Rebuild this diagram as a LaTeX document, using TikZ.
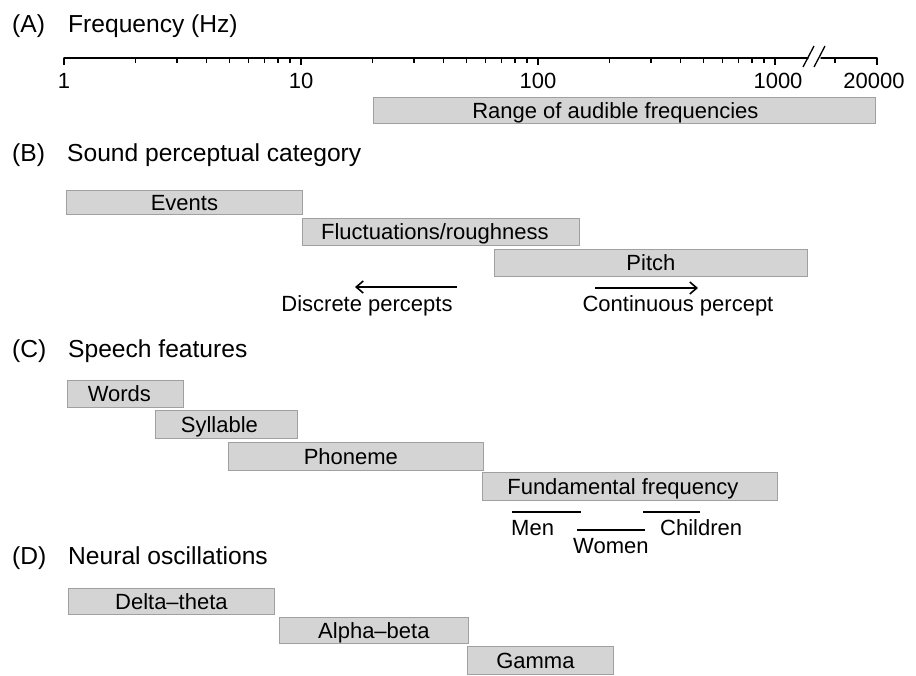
\documentclass[tikz,border=0pt]{standalone}
\usepackage{fontspec}
\setmainfont{Liberation Sans}
\usetikzlibrary{arrows.meta}
\definecolor{barfill}{RGB}{212,212,212}
\definecolor{barline}{RGB}{160,160,160}
\tikzset{
  head/.style={anchor=base west, inner sep=0pt, font=\fontsize{24.6}{28}\selectfont},
  small/.style={inner sep=0pt, font=\fontsize{22}{26}\selectfont},
  barstyle/.style={draw=barline, line width=0.8pt, fill=barfill, anchor=north west, inner sep=0pt,
    font=\fontsize{22}{26}\selectfont, text height=15.5pt, text depth=0pt},
  axisline/.style={line width=1.5pt, line cap=round},
  tickline/.style={line width=1.4pt},
  rangeline/.style={line width=1.1pt},
  percarrow/.style={line width=1.4pt, -{Straight Barb[length=7pt, width=12pt, line width=1.6pt]}},
}
\begin{document}
\begin{tikzpicture}[x=1pt, y=-1pt]
\useasboundingbox (0,0) rectangle (916,675);
% ---------- (A) ----------
\node[head] (hA) at (12,32) {(A)};
\node[head] (tA) at (68,32) {Frequency (Hz)};
\draw[axisline] (64,58) -- (808,58);
\draw[axisline] (821,58) -- (877,58);
\draw[line width=1.3pt] (803,67) -- (814,46);
\draw[line width=1.3pt] (814,67) -- (825,46);
\foreach \xx in {64,301,538,775,877} \draw[tickline] (\xx,58) -- (\xx,65);
\foreach \d in {0,1,2} \foreach \k in {2,...,9}
  \draw[tickline] ({64+237*\d+237*log10(\k)},58) -- ++(0,4.5);
\draw[tickline] (835,58) -- (835,62.5);
\node[small, anchor=base] (l1) at (64,88) {1};
\node[small, anchor=base] (l10) at (301,88) {10};
\node[small, anchor=base] (l100) at (538,88) {100};
\node[small, anchor=base] (l1000) at (778,88) {1000};
\node[small, anchor=base] (l20000) at (874,88) {20000};
\node[barstyle, minimum width=502pt, minimum height=26pt] (range) at (373,97) {\hspace*{-18pt}Range of audible frequencies};
% ---------- (B) ----------
\node[head] (hB) at (12,161) {(B)};
\node[head] (tB) at (67,161) {Sound perceptual category};
\node[barstyle, minimum width=236pt, minimum height=24pt] (events) at (66,190) {Events};
\node[barstyle, minimum width=277pt, minimum height=27pt] (fluct) at (302,218) {\hspace*{-12pt}Fluctuations/roughness};
\node[barstyle, minimum width=313pt, minimum height=27pt] (pitch) at (494,249) {Pitch};
\coordinate (dA) at (457,287);
\coordinate (dB) at (355,287);
\draw[percarrow] (dA) -- (dB);
\node[small, anchor=base] (disc) at (367,311) {Discrete percepts};
\coordinate (cA) at (595,288);
\coordinate (cB) at (698,288);
\draw[percarrow] (cA) -- (cB);
\node[small, anchor=base] (cont) at (678,311) {Continuous percept};
% ---------- (C) ----------
\node[head] (hC) at (12,357) {(C)};
\node[head] (tC) at (68,357) {Speech features};
\node[barstyle, minimum width=116pt, minimum height=27pt] (words) at (67,380) {\hspace*{-12pt}Words};
\node[barstyle, minimum width=142pt, minimum height=28pt] (syll) at (155,410) {\hspace*{-14pt}Syllable};
\node[barstyle, minimum width=255pt, minimum height=28pt] (phon) at (228,442) {\hspace*{-10pt}Phoneme};
\node[barstyle, minimum width=295pt, minimum height=28pt] (fund) at (482,472) {\hspace*{-14pt}Fundamental frequency};
\draw[rangeline] (512,512) -- (581,512);
\draw[rangeline] (577,530) -- (645,530);
\draw[rangeline] (643,512) -- (700,512);
\node[small, anchor=base west] (men) at (511,535) {Men};
\node[small, anchor=base west] (women) at (573,553) {Women};
\node[small, anchor=base west] (child) at (660,535) {Children};
% ---------- (D) ----------
\node[head] (hD) at (12,564) {(D)};
\node[head] (tD) at (68,564) {Neural oscillations};
\node[barstyle, minimum width=206pt, minimum height=26pt] (delta) at (68,588) {Delta\textendash theta};
\node[barstyle, minimum width=189pt, minimum height=26pt] (alpha) at (279,617) {Alpha\textendash beta};
\node[barstyle, minimum width=146pt, minimum height=28pt] (gamma) at (467,646) {\hspace*{-10pt}Gamma};
\end{tikzpicture}
\end{document}
